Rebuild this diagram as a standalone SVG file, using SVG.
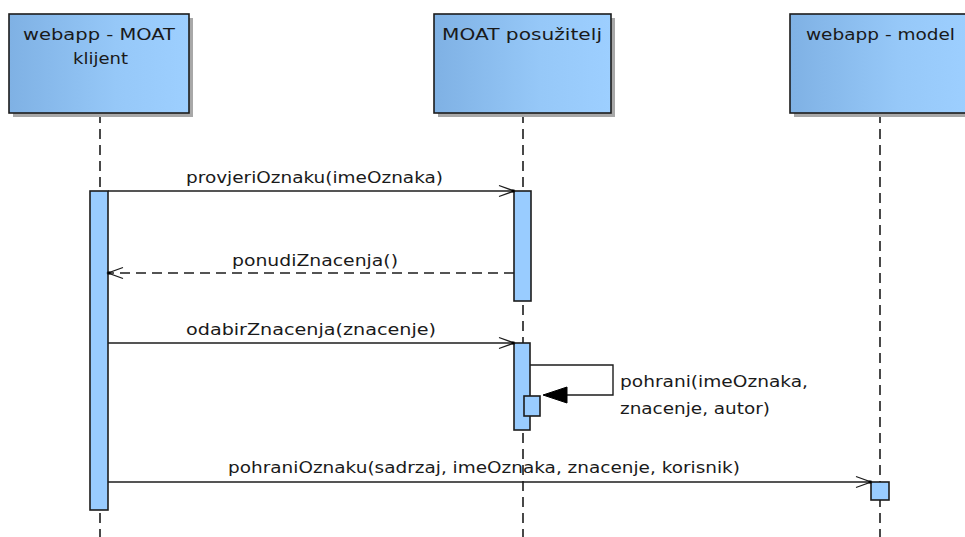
<svg xmlns="http://www.w3.org/2000/svg" width="965" height="537" viewBox="0 0 965 537">
<style>
.hdr{fill:url(#g);stroke:#1c1c1c;stroke-width:1.6}
.sh{fill:#a8a8a8}
.life{stroke:#1c1c1c;stroke-width:1.6;stroke-dasharray:10 6;fill:none}
.act{fill:#99ccff;stroke:#1c1c1c;stroke-width:1.6}
.msg{stroke:#1c1c1c;stroke-width:1.4;fill:none}
.ret{stroke:#1c1c1c;stroke-width:1.4;fill:none;stroke-dasharray:10 6}
.t{font-family:"DejaVu Sans","Liberation Sans",sans-serif;font-size:15px;fill:#1a1a1a}
</style>
<defs>
<linearGradient id="g" x1="0" y1="0" x2="1" y2="0">
<stop offset="0" stop-color="#7fb1e4"/>
<stop offset="0.6" stop-color="#96c8f8"/>
<stop offset="1" stop-color="#9dcfff"/>
</linearGradient>
<marker id="open" markerWidth="20" markerHeight="14" refX="17" refY="7" orient="auto" markerUnits="userSpaceOnUse">
<path d="M2,1.5 L17,7 L2,12.5" fill="none" stroke="#1c1c1c" stroke-width="1.3"/>
<rect x="14.5" y="5.5" width="3" height="3" fill="#000"/>
</marker>
</defs>
<rect width="965" height="537" fill="#fff"/>
<g id="lifelines">
<line class="life" x1="100" y1="113" x2="100" y2="537"/>
<line class="life" x1="523" y1="113" x2="523" y2="537"/>
<line class="life" x1="880" y1="113" x2="880" y2="537"/>
</g>
<g id="client">
<rect class="sh" x="13" y="18" width="180" height="99"/>
<rect class="hdr" x="9" y="14" width="180" height="99"/>
<text class="t" x="23" y="40" textLength="152" lengthAdjust="spacingAndGlyphs">webapp - MOAT</text>
<text class="t" x="73" y="64" textLength="55" lengthAdjust="spacingAndGlyphs">klijent</text>
</g>
<g id="server">
<rect class="sh" x="438" y="18" width="177" height="99"/>
<rect class="hdr" x="434" y="14" width="177" height="99"/>
<text class="t" x="442" y="40" textLength="160" lengthAdjust="spacingAndGlyphs">MOAT posužitelj</text>
</g>
<g id="model">
<rect class="sh" x="794" y="18" width="180" height="99"/>
<rect class="hdr" x="790" y="14" width="180" height="99"/>
<text class="t" x="806" y="40" textLength="149" lengthAdjust="spacingAndGlyphs">webapp - model</text>
</g>
<g id="activations">
<rect class="act" x="90" y="191" width="18" height="319"/>
<rect class="act" x="514" y="191" width="17" height="110"/>
<rect class="act" x="514" y="343" width="16" height="87"/>
<rect class="act" x="524" y="396" width="16" height="20"/>
<rect class="act" x="871" y="482" width="18" height="18"/>
</g>
<g id="connectors">
<line class="msg" x1="108" y1="191" x2="514" y2="191" marker-end="url(#open)"/>
<text class="t" x="186" y="183" textLength="257" lengthAdjust="spacingAndGlyphs">provjeriOznaku(imeOznaka)</text>
<line class="ret" x1="514" y1="273" x2="108" y2="273" marker-end="url(#open)"/>
<text class="t" x="232" y="266" textLength="166" lengthAdjust="spacingAndGlyphs">ponudiZnacenja()</text>
<line class="msg" x1="108" y1="343" x2="514" y2="343" marker-end="url(#open)"/>
<text class="t" x="186" y="335" textLength="250" lengthAdjust="spacingAndGlyphs">odabirZnacenja(znacenje)</text>
<polyline class="msg" points="530,365 613,365 613,395 560,395"/>
<polygon points="543,395 567,387 567,403" fill="#000" stroke="#000" stroke-width="1"/>
<text class="t" x="620" y="387" textLength="188" lengthAdjust="spacingAndGlyphs">pohrani(imeOznaka,</text>
<text class="t" x="620" y="414" textLength="150" lengthAdjust="spacingAndGlyphs">znacenje, autor)</text>
<line class="msg" x1="108" y1="482" x2="871" y2="482" marker-end="url(#open)"/>
<text class="t" x="228" y="473" textLength="512" lengthAdjust="spacingAndGlyphs">pohraniOznaku(sadrzaj, imeOznaka, znacenje, korisnik)</text>
</g>
</svg>
